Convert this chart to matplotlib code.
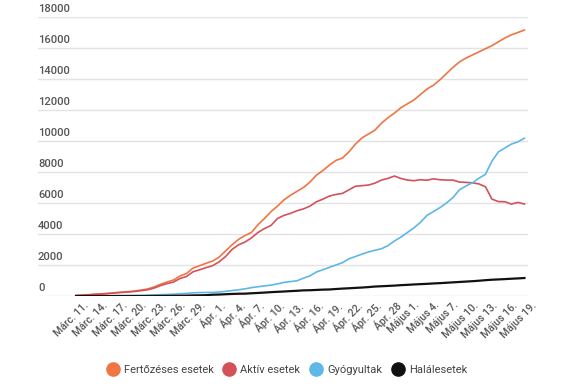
import matplotlib.pyplot as plt
from matplotlib.lines import Line2D
from matplotlib.transforms import ScaledTranslation, blended_transform_factory

plt.rcParams['font.family'] = ['Roboto', 'DejaVu Sans']

# napi adatok, márc. 11. - máj. 19.
fertozeses = [30, 50, 80, 110, 140, 170, 210, 250, 280, 320,
              380, 450, 580, 760, 900, 1030, 1290, 1450, 1800, 1950, 2110,
              2250, 2500, 2900, 3300, 3650, 3900, 4100, 4600, 5000, 5440,
              5800, 6200, 6500, 6750, 7000, 7350, 7800, 8100, 8450, 8750,
              8900, 9300, 9800, 10200, 10450, 10700, 11150, 11500, 11800, 12150,
              12400, 12650, 13000, 13350, 13600, 13950, 14350, 14750, 15100, 15350,
              15550, 15750, 15950, 16150, 16400, 16650, 16850, 17000, 17160]
aktiv = [30, 50, 80, 110, 135, 160, 195, 230, 255, 290,
         345, 400, 510, 670, 800, 900, 1130, 1260, 1560, 1690, 1830,
         1950, 2200, 2540, 3000, 3300, 3480, 3750, 4100, 4350, 4550,
         5000, 5200, 5330, 5500, 5620, 5800, 6080, 6250, 6450, 6550,
         6620, 6850, 7080, 7120, 7160, 7280, 7480, 7590, 7740, 7580,
         7480, 7440, 7500, 7470, 7560, 7500, 7480, 7480, 7350, 7330,
         7300, 7230, 7050, 6250, 6090, 6080, 5930, 6040, 5930]
gyogyultak = [0, 0, 0, 0, 5, 10, 15, 20, 25, 30,
              35, 50, 70, 85, 95, 115, 145, 170, 205, 220, 230,
              230, 260, 300, 350, 400, 460, 540, 600, 650, 700,
              780, 880, 930, 980, 1150, 1300, 1550, 1700, 1850, 2000,
              2150, 2400, 2550, 2700, 2840, 2950, 3050, 3250, 3550, 3800,
              4100, 4400, 4750, 5200, 5450, 5700, 6000, 6350, 6850, 7100,
              7300, 7600, 7850, 8700, 9300, 9550, 9800, 9950, 10180]
halalesetek = [0, 0, 0, 0, 0, 0, 0, 0, 0, 0,
               0, 1, 2, 4, 7, 11, 17, 24, 37, 43, 52,
               82, 94, 115, 133, 146, 151, 176, 197, 220, 248,
               270, 290, 315, 336, 364, 372, 392, 411, 421, 451,
               478, 498, 524, 545, 575, 610, 630, 650, 670, 700,
               720, 745, 765, 785, 810, 830, 855, 880, 905, 930,
               955, 985, 1020, 1050, 1070, 1090, 1115, 1135, 1160]

datum_cimkek = ["Márc. 11.", "Márc. 14.", "Márc. 17.", "Márc. 20.", "Márc. 23.",
                "Márc. 26.", "Márc. 29.", "Ápr. 1.", "Ápr. 4.", "Ápr. 7.",
                "Ápr. 10.", "Ápr. 13.", "Ápr. 16.", "Ápr. 19.", "Ápr. 22.",
                "Ápr. 25.", "Ápr. 28", "Május 1.", "Május 4.", "Május 7.",
                "Május 10.", "Május 13.", "Május 16.", "Május 19."]
y_ertekek = [0, 2000, 4000, 6000, 8000, 10000, 12000, 14000, 16000, 18000]

sorozatok = ["Fertőzéses esetek", "Aktív esetek", "Gyógyultak", "Halálesetek"]
szinek = ["#ee7642", "#d4515a", "#5cb8e6", "#111111"]
vastagsag = [1.2, 1.2, 1.2, 1.6]

fig = plt.figure(figsize=(5.75, 3.87), dpi=100)
ax = fig.add_axes([38 / 575, 1 - 296 / 387, 490 / 575, 279 / 387])

napok = list(range(len(fertozeses)))
for adat, szin, lw in zip([fertozeses, aktiv, gyogyultak, halalesetek], szinek, vastagsag):
    ax.plot(napok, adat, color=szin, lw=lw, solid_joinstyle='round', zorder=3)

ax.set_xlim(-5.85, 69.55)
ax.set_ylim(0, 18000)
for s in ax.spines.values():
    s.set_visible(False)

# rácsvonalak, felirat a vonal fölött balra
ax.set_yticks(y_ertekek)
ax.set_yticklabels([])
ax.tick_params(axis='y', length=0)
ax.grid(axis='y', color='#e3e3e3', lw=1)
tr = blended_transform_factory(ax.transAxes, ax.transData)
for v in y_ertekek:
    ax.text(0, v, str(v), transform=tr + ScaledTranslation(0, 3 / 100, fig.dpi_scale_trans),
            ha='left', va='bottom', fontsize=8, color='#555555', fontweight='medium')

ax.set_xticks(napok[::3])
ax.set_xticklabels(datum_cimkek, rotation=45, ha='right', va='top',
                   rotation_mode='anchor', fontsize=7.5, color='#555555',
                   fontweight='medium')
ax.tick_params(axis='x', length=0, pad=3)
off = ScaledTranslation(7 / 100, 0, fig.dpi_scale_trans)
for lab in ax.get_xticklabels():
    lab.set_transform(lab.get_transform() + off)

kezelok = [Line2D([], [], marker='o', ls='none', markersize=9.5, color=c) for c in szinek]
fig.legend(kezelok, sorozatok, loc='center', bbox_to_anchor=(287 / 575, 1 - 370 / 387),
           ncol=4, frameon=False, fontsize=8, handlelength=1.0, handletextpad=0.5,
           columnspacing=0.9, labelcolor='#444444')

fig.savefig('out.png', dpi=100, facecolor='white')
